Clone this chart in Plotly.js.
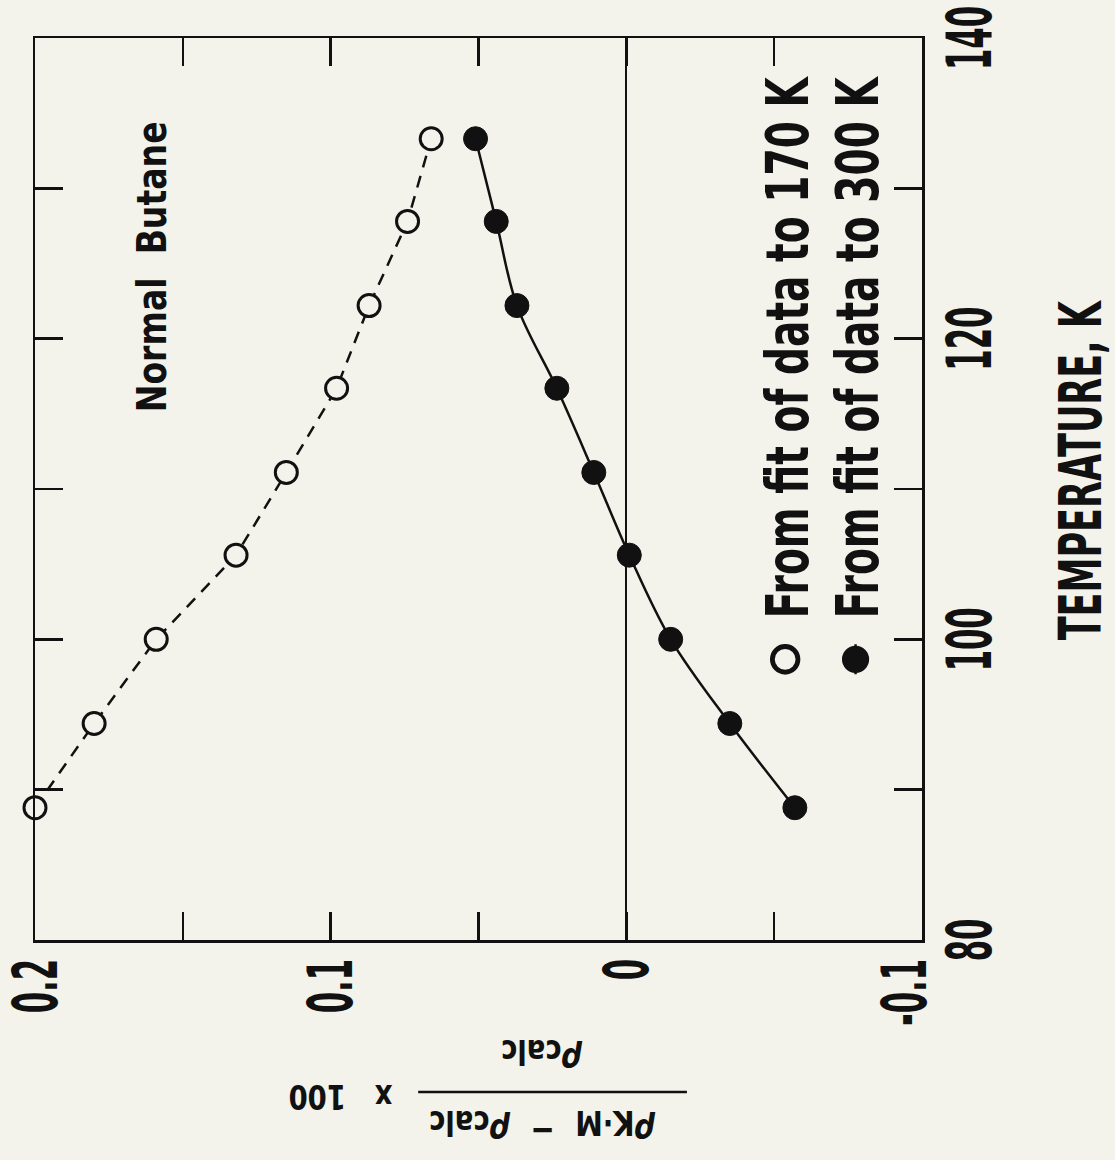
<!DOCTYPE html>
<html>
<head>
<meta charset="utf-8">
<script src="https://cdn.plot.ly/plotly-3.0.1.min.js"></script>
<style>
  html, body { margin:0; padding:0; width:1115px; height:1160px; overflow:hidden; background:#f3f3eb; }
  #wrap { position:absolute; left:0; top:0; width:1160px; height:1115px;
          transform-origin:0 0; transform:translate(0px,1160px) rotate(-90deg); }
  #chart { width:1160px; height:1115px; }
</style>
</head>
<body>
<div id="wrap"><div id="chart"></div></div>
<script>
// Temperatures (K)
const temperature = [88.8, 94.4, 100.0, 105.6, 111.1, 116.7, 122.2, 127.8, 133.3];
// (rho_KM - rho_calc)/rho_calc x 100, fit of data to 170 K (open circles)
const dev170 = [0.200, 0.180, 0.159, 0.132, 0.115, 0.098, 0.087, 0.074, 0.066];
// fit of data to 300 K (filled circles)
const dev300 = [-0.057, -0.035, -0.015, -0.001, 0.011, 0.0235, 0.037, 0.044, 0.051];

const xTickVals = [80, 100, 120, 140];
const xTickText = ['80', '100', '120', '140'];
const yTickVals = [-0.1, 0, 0.1, 0.2];
const yTickText = ['-0.1', '0', '0.1', '0.2'];

const seriesNames = ['From fit of data to 170 K', 'From fit of data to 300 K'];

const FONT = '"DejaVu Sans Condensed", "DejaVu Sans", sans-serif';
const INK = '#111';
const BG = '#f3f3eb';

const traces = [
  {
    x: temperature, y: dev170, name: seriesNames[0], type: 'scatter', mode: 'lines+markers',
    line: { color: INK, width: 2.5, dash: '12px,9px' },
    marker: { symbol: 'circle', size: 22, color: BG, line: { color: INK, width: 3 } },
    cliponaxis: false
  },
  {
    x: temperature, y: dev300, name: seriesNames[1], type: 'scatter', mode: 'lines+markers',
    line: { color: INK, width: 2.5, shape: 'spline', smoothing: 1 },
    marker: { symbol: 'circle', size: 24, color: INK, line: { color: INK, width: 1 } },
    cliponaxis: false
  }
];

const axisCommon = {
  showline: true, linecolor: INK, linewidth: 2.5, mirror: 'ticks',
  ticks: 'inside', ticklen: 28, tickwidth: 2.5, tickcolor: INK,
  showgrid: false, automargin: false, ticklabeloverflow: 'allow',
  tickfont: { family: FONT, size: 62, color: INK, weight: 'bold' }
};

const layout = {
  width: 1160, height: 1115,
  margin: { l: 220, r: 38, t: 35, b: 193, autoexpand: false },
  paper_bgcolor: BG, plot_bgcolor: BG,
  font: { family: FONT, color: INK, weight: 'bold' },
  showlegend: true,
  legend: {
    x: 0.289, y: 0.2041, xanchor: 'left', yanchor: 'top', bgcolor: 'rgba(0,0,0,0)',
    font: { family: FONT, size: 58, color: INK, weight: 'bold' }, itemsizing: 'trace',
    tracegroupgap: 0
  },
  xaxis: Object.assign({}, axisCommon, {
    range: [80, 140], tickmode: 'array', tickvals: xTickVals, ticktext: xTickText,
    minor: { tick0: 80, dtick: 10, ticks: 'inside', ticklen: 28, tickwidth: 2.5, tickcolor: INK },
    zeroline: false, ticklabelstandoff: -8,
    title: { text: 'TEMPERATURE, K', standoff: 55, font: { family: FONT, size: 59, color: INK, weight: 'bold' } }
  }),
  yaxis: Object.assign({}, axisCommon, {
    range: [-0.1, 0.2], tickmode: 'array', tickvals: yTickVals, ticktext: yTickText,
    minor: { tick0: 0, dtick: 0.05, ticks: 'inside', ticklen: 28, tickwidth: 2.5, tickcolor: INK },
    zeroline: true, zerolinecolor: INK, zerolinewidth: 2, ticklabelstandoff: 4
  }),
  shapes: [
    { type: 'line', xref: 'paper', yref: 'paper', x0: -0.1685, x1: -0.1685, y0: 0.265, y1: 0.568,
      line: { color: INK, width: 2.5 } }
  ],
  annotations: [
    { xref: 'x', yref: 'y', x: 124.8, y: 0.1604, text: 'Normal\u00a0\u00a0Butane', showarrow: false,
      xanchor: 'center', yanchor: 'middle',
      font: { family: FONT, size: 40, color: INK, weight: 'bold' } },
    { xref: 'paper', yref: 'paper', x: -0.2084, y: 0.4284, textangle: -90, showarrow: false,
      xanchor: 'center', yanchor: 'middle',
      text: '<i>ρ</i><sub><span style="font-size:34px">K·M</span></sub>\u00a0\u00a0−\u00a0\u00a0<i>ρ</i><sub><span style="font-size:34px">calc</span></sub>',
      font: { family: FONT, size: 36, color: INK, weight: 'bold' } },
    { xref: 'paper', yref: 'paper', x: -0.1297, y: 0.4284, textangle: -90, showarrow: false,
      xanchor: 'center', yanchor: 'middle',
      text: '<i>ρ</i><sub><span style="font-size:34px">calc</span></sub>',
      font: { family: FONT, size: 36, color: INK, weight: 'bold' } },
    { xref: 'paper', yref: 'paper', x: -0.174, y: 0.656, textangle: -90, showarrow: false,
      xanchor: 'center', yanchor: 'middle',
      text: 'x\u00a0\u00a0\u00a0100',
      font: { family: FONT, size: 34, color: INK, weight: 'bold' } }
  ]
};

// horizontally compress text (the reference uses a very condensed lettering);
// idempotent: re-applied only if Plotly redrew the node
function squeeze(nodes, s, pre) {
  nodes.forEach(t => {
    const cur = t.getAttribute('transform') || '';
    if (t.getAttribute('data-sqt') === cur && cur !== '') return;
    let bb;
    try { bb = t.getBBox(); } catch (e) { return; }
    if (!bb || bb.width === 0) return;
    const anchor = t.getAttribute('text-anchor') || 'start';
    let cx = bb.x;
    if (anchor === 'middle') cx = bb.x + bb.width / 2;
    else if (anchor === 'end') cx = bb.x + bb.width;
    const cy = bb.y + bb.height / 2;
    const out = ((pre || '') + ' ' + cur + ' translate(' + cx + ',' + cy + ') scale(' + s + ',1) translate(' + (-cx) + ',' + (-cy) + ')').trim();
    t.setAttribute('transform', out);
    t.setAttribute('data-sqt', out);
  });
}

function retransform(nodes, pre, post) {
  nodes.forEach(p => {
    const cur = p.getAttribute('transform') || '';
    if (p.getAttribute('data-sqt') === cur && cur !== '') return;
    const out = ((pre || '') + ' ' + cur + ' ' + (post || '')).trim();
    p.setAttribute('transform', out);
    p.setAttribute('data-sqt', out);
  });
}

function finish(gd) {
  const q = s => Array.from(gd.querySelectorAll(s));
  squeeze(q('.xtick text'), 0.55);
  const yt = q('.ytick text');
  squeeze(yt.filter(t => t.textContent !== '-0.1'), 0.55);
  squeeze(yt.filter(t => t.textContent === '-0.1'), 0.55, 'translate(0,-18)');
  squeeze(q('.legendtext'), 0.75, 'translate(21,0)');
  squeeze(q('.g-xtitle text'), 0.66, 'translate(18,0)');
  const ann = q('.annotation-text');
  if (ann[0]) squeeze([ann[0]], 0.92);
  squeeze(ann.slice(1), 0.9);
  retransform(q('.legendpoints path'), '', 'scale(1.6)');
  const items = q('.legend .traces');
  if (items[1]) retransform([items[1]], 'translate(0,-8)', '');
}

Plotly.newPlot('chart', traces, layout, { displayModeBar: false, staticPlot: true }).then(gd => {
  finish(gd);
  gd.on('plotly_afterplot', () => finish(gd));
  [30, 150, 500, 1200].forEach(ms => setTimeout(() => finish(gd), ms));
});
</script>
</body>
</html>
